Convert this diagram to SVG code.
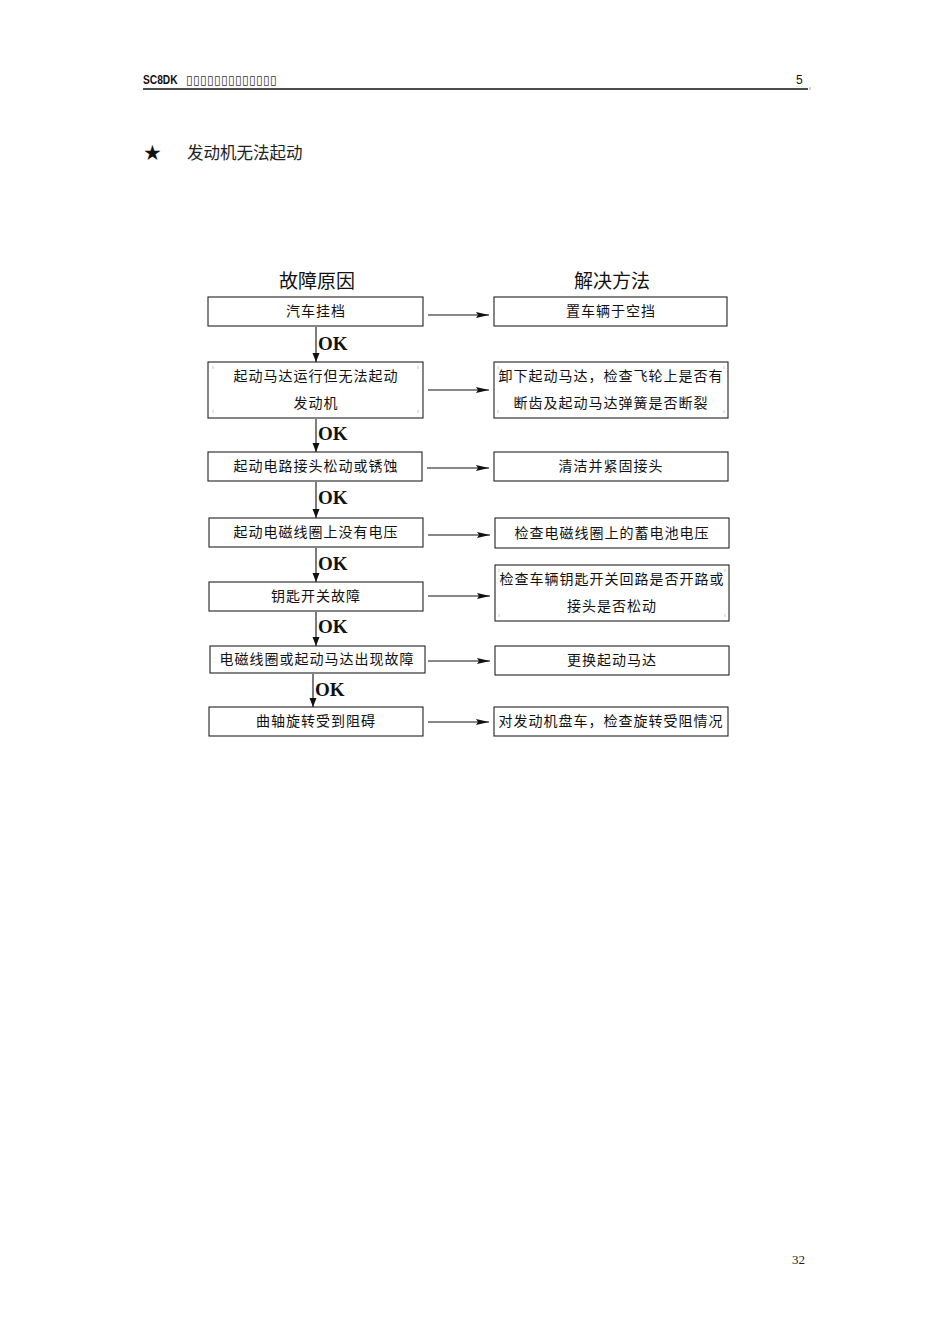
<svg xmlns="http://www.w3.org/2000/svg" width="950" height="1344" viewBox="0 0 950 1344">
<defs>
<style>
.box{fill:#fff;stroke:#222;stroke-width:1.1}
.t{font-family:"Noto Sans CJK SC",sans-serif;font-size:14px;letter-spacing:1px;fill:#111;text-anchor:middle}
.h{font-family:"Noto Sans CJK SC",sans-serif;font-size:19px;font-weight:normal;fill:#111;text-anchor:middle}
.ok{font-family:"Liberation Serif",serif;font-size:19px;font-weight:bold;fill:#111}
.ln{stroke:#111;stroke-width:1.1;fill:none}
.cm{stroke:#bbb;stroke-width:0.8;fill:none}
</style>
<marker id="ah" viewBox="0 0 13 8" refX="13" refY="4" markerWidth="13" markerHeight="8" markerUnits="userSpaceOnUse" orient="auto">
<path d="M0,1 L13,4 L0,7 L2,4 Z" fill="#111"/>
</marker>
<marker id="av" viewBox="0 0 9 8" refX="9" refY="4" markerWidth="9" markerHeight="8" markerUnits="userSpaceOnUse" orient="auto">
<path d="M0,0.5 L9,4 L0,7.5 Z" fill="#111"/>
</marker>
</defs>
<rect width="950" height="1344" fill="#fff"/>

<g id="header">
<text x="143" y="84" font-family="Liberation Sans Narrow, Liberation Sans, sans-serif" font-size="12" font-weight="bold" fill="#111" transform="translate(143 84) scale(0.85 1) translate(-143 -84)">SC8DK</text>
<text x="186" y="84" font-family="DejaVu Sans, sans-serif" font-size="12" letter-spacing="0.4" fill="#333">▯▯▯▯▯▯▯▯▯▯▯▯▯</text>
<text x="796" y="84" font-family="Liberation Sans, sans-serif" font-size="12" fill="#111">5</text>
<line x1="143" y1="89" x2="808" y2="89" stroke="#111" stroke-width="1.6"/>
<line x1="810" y1="87" x2="810" y2="90" stroke="#888" stroke-width="0.8"/>
</g>

<g id="title">
<text x="143" y="160" font-family="DejaVu Sans, sans-serif" font-size="21" fill="#111">★</text>
<text x="187" y="159" font-family="Noto Sans CJK SC, sans-serif" font-size="16.5" fill="#222">发动机无法起动</text>
</g>

<g id="col-headers">
<text class="h" x="317" y="288">故障原因</text>
<text class="h" x="612" y="288">解决方法</text>
</g>

<g id="cause1"><rect class="box" x="208" y="297" width="215" height="29"/><text class="t" x="316" y="316">汽车挂档</text></g>
<g id="cause2"><rect class="box" x="208" y="362" width="215" height="56"/>
<path class="cm" d="M213,366 v3 M418,366 v3 M213,413 v-3 M418,413 v-3"/>
<text class="t" x="316" y="381">起动马达运行但无法起动</text><text class="t" x="316" y="408">发动机</text></g>
<g id="cause3"><rect class="box" x="208" y="452" width="214" height="29"/><text class="t" x="316" y="471">起动电路接头松动或锈蚀</text></g>
<g id="cause4"><rect class="box" x="209" y="518" width="214" height="29"/><text class="t" x="316" y="537">起动电磁线圈上没有电压</text></g>
<g id="cause5"><rect class="box" x="209" y="582" width="214" height="29"/><text class="t" x="316" y="601">钥匙开关故障</text></g>
<g id="cause6"><rect class="box" x="210" y="646" width="215" height="27"/><text class="t" x="317" y="664">电磁线圈或起动马达出现故障</text></g>
<g id="cause7"><rect class="box" x="209" y="707" width="214" height="29"/><text class="t" x="316" y="726">曲轴旋转受到阻碍</text></g>

<g id="fix1"><rect class="box" x="494" y="297" width="233" height="29"/><text class="t" x="611" y="316">置车辆于空挡</text></g>
<g id="fix2"><rect class="box" x="494" y="362" width="234" height="56"/>
<path class="cm" d="M498,366 v3 M724,366 v3 M498,413 v-3 M724,413 v-3"/>
<text class="t" x="611" y="381">卸下起动马达，检查飞轮上是否有</text><text class="t" x="611" y="408">断齿及起动马达弹簧是否断裂</text></g>
<g id="fix3"><rect class="box" x="494" y="452" width="234" height="29"/><text class="t" x="611" y="471">清洁并紧固接头</text></g>
<g id="fix4"><rect class="box" x="495" y="518" width="234" height="30"/><text class="t" x="612" y="538">检查电磁线圈上的蓄电池电压</text></g>
<g id="fix5"><rect class="box" x="495" y="565" width="234" height="56"/>
<path class="cm" d="M499,569 v3 M725,569 v3 M499,617 v-3 M725,617 v-3"/>
<text class="t" x="612" y="584">检查车辆钥匙开关回路是否开路或</text><text class="t" x="612" y="611">接头是否松动</text></g>
<g id="fix6"><rect class="box" x="495" y="646" width="234" height="29"/><text class="t" x="612" y="665">更换起动马达</text></g>
<g id="fix7"><rect class="box" x="494" y="707" width="234" height="29"/><text class="t" x="611" y="726">对发动机盘车，检查旋转受阻情况</text></g>

<g id="connectors">
<line class="ln" x1="428" y1="315" x2="489" y2="315" marker-end="url(#ah)"/>
<line class="ln" x1="428" y1="390" x2="489" y2="390" marker-end="url(#ah)"/>
<line class="ln" x1="427" y1="468" x2="489" y2="468" marker-end="url(#ah)"/>
<line class="ln" x1="428" y1="535" x2="490" y2="535" marker-end="url(#ah)"/>
<line class="ln" x1="428" y1="596" x2="490" y2="596" marker-end="url(#ah)"/>
<line class="ln" x1="428" y1="661" x2="490" y2="661" marker-end="url(#ah)"/>
<line class="ln" x1="428" y1="722" x2="489" y2="722" marker-end="url(#ah)"/>

<line class="ln" x1="316" y1="327" x2="316" y2="362" marker-end="url(#av)"/>
<line class="ln" x1="316" y1="419" x2="316" y2="452" marker-end="url(#av)"/>
<line class="ln" x1="316" y1="482" x2="316" y2="518" marker-end="url(#av)"/>
<line class="ln" x1="316" y1="548" x2="316" y2="582" marker-end="url(#av)"/>
<line class="ln" x1="316" y1="612" x2="316" y2="646" marker-end="url(#av)"/>
<line class="ln" x1="313" y1="674" x2="313" y2="707" marker-end="url(#av)"/>
<text class="ok" x="318" y="350">OK</text>
<text class="ok" x="318" y="440">OK</text>
<text class="ok" x="318" y="504">OK</text>
<text class="ok" x="318" y="570">OK</text>
<text class="ok" x="318" y="633">OK</text>
<text class="ok" x="315" y="696">OK</text>
</g>

<g id="footer"><text x="792" y="1264" font-family="Liberation Serif, serif" font-size="13" fill="#222">32</text></g>
</svg>
